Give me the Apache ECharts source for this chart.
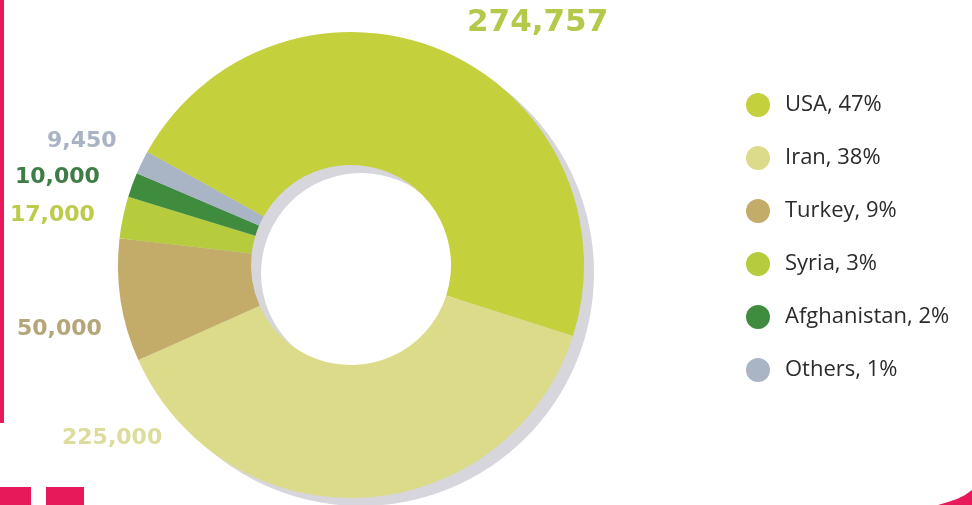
<!DOCTYPE html>
<html>
<head>
<meta charset="utf-8">
<script src="https://cdn.jsdelivr.net/npm/echarts@6/dist/echarts.min.js"></script>
<style>html,body{margin:0;padding:0;background:#fff;}#c{width:972px;height:505px;}</style>
</head>
<body>
<div id="c"></div>
<script>
const countries = ['USA', 'Iran', 'Turkey', 'Syria', 'Afghanistan', 'Others'];
const values = [274757, 225000, 50000, 17000, 10000, 9450];
const shares = [47, 38, 9, 3, 2, 1];

const sliceColors = ['#c4d03c', '#dcdb8a', '#c3ac6a', '#b6cc3c', '#3f8c3f', '#a9b4c4'];
const labelColors = ['#b4c94a', '#dcdc9c', '#b4a678', '#bccb4a', '#3e7d45', '#a9b3c3'];
const labelPos = [[467, 23, 31], [62, 438, 22], [17, 329, 22], [10, 215, 22], [15, 177, 22], [47, 141, 22]];

const chart = echarts.init(document.getElementById('c'));
const fmt = v => v.toLocaleString('en-US');

chart.setOption({
  animation: false,
  legend: {
    orient: 'vertical',
    left: 741,
    top: 88,
    icon: 'circle',
    itemWidth: 24,
    itemHeight: 24,
    itemGap: 29,
    data: countries,
    formatter: name => name + ', ' + shares[countries.indexOf(name)] + '%',
    textStyle: { fontFamily: 'Open Sans', fontSize: 22, color: '#2b2b2b', padding: [0, 0, 0, 10] }
  },
  graphic: [
    { type: 'rect', shape: { x: 0, y: 0, width: 4, height: 423 }, style: { fill: '#e8195a' } },
    { type: 'rect', shape: { x: 0, y: 487, width: 31, height: 18 }, style: { fill: '#e8195a' } },
    { type: 'rect', shape: { x: 46, y: 487, width: 38, height: 18 }, style: { fill: '#e8195a' } },
    { type: 'polygon', shape: { points: [[938, 505], [948, 502], [957, 499], [965, 495], [972, 490], [972, 505]] }, style: { fill: '#e8195a' } }
  ],
  series: [
    {
      type: 'pie',
      name: 'shadow',
      silent: true,
      z: 1,
      center: [361, 273],
      radius: [100, 233],
      label: { show: false },
      labelLine: { show: false },
      itemStyle: { color: '#d6d6dc' },
      data: [{ value: 1, name: '_shadow' }]
    },
    {
      type: 'pie',
      z: 2,
      center: [351, 265],
      radius: [100, 233],
      startAngle: 151,
      clockwise: true,
      avoidLabelOverlap: false,
      labelLine: { show: false },
      label: {
        show: true,
        position: 'outside',
        fontFamily: 'DejaVu Sans',
        fontWeight: 'bold',
        formatter: p => fmt(p.value)
      },
      labelLayout: p => ({
        x: labelPos[p.dataIndex][0],
        y: labelPos[p.dataIndex][1],
        align: 'left',
        verticalAlign: 'middle'
      }),
      data: countries.map((c, i) => ({
        name: c,
        value: values[i],
        itemStyle: { color: sliceColors[i] },
        label: { color: labelColors[i], fontSize: labelPos[i][2] }
      }))
    }
  ]
});
</script>
</body>
</html>
